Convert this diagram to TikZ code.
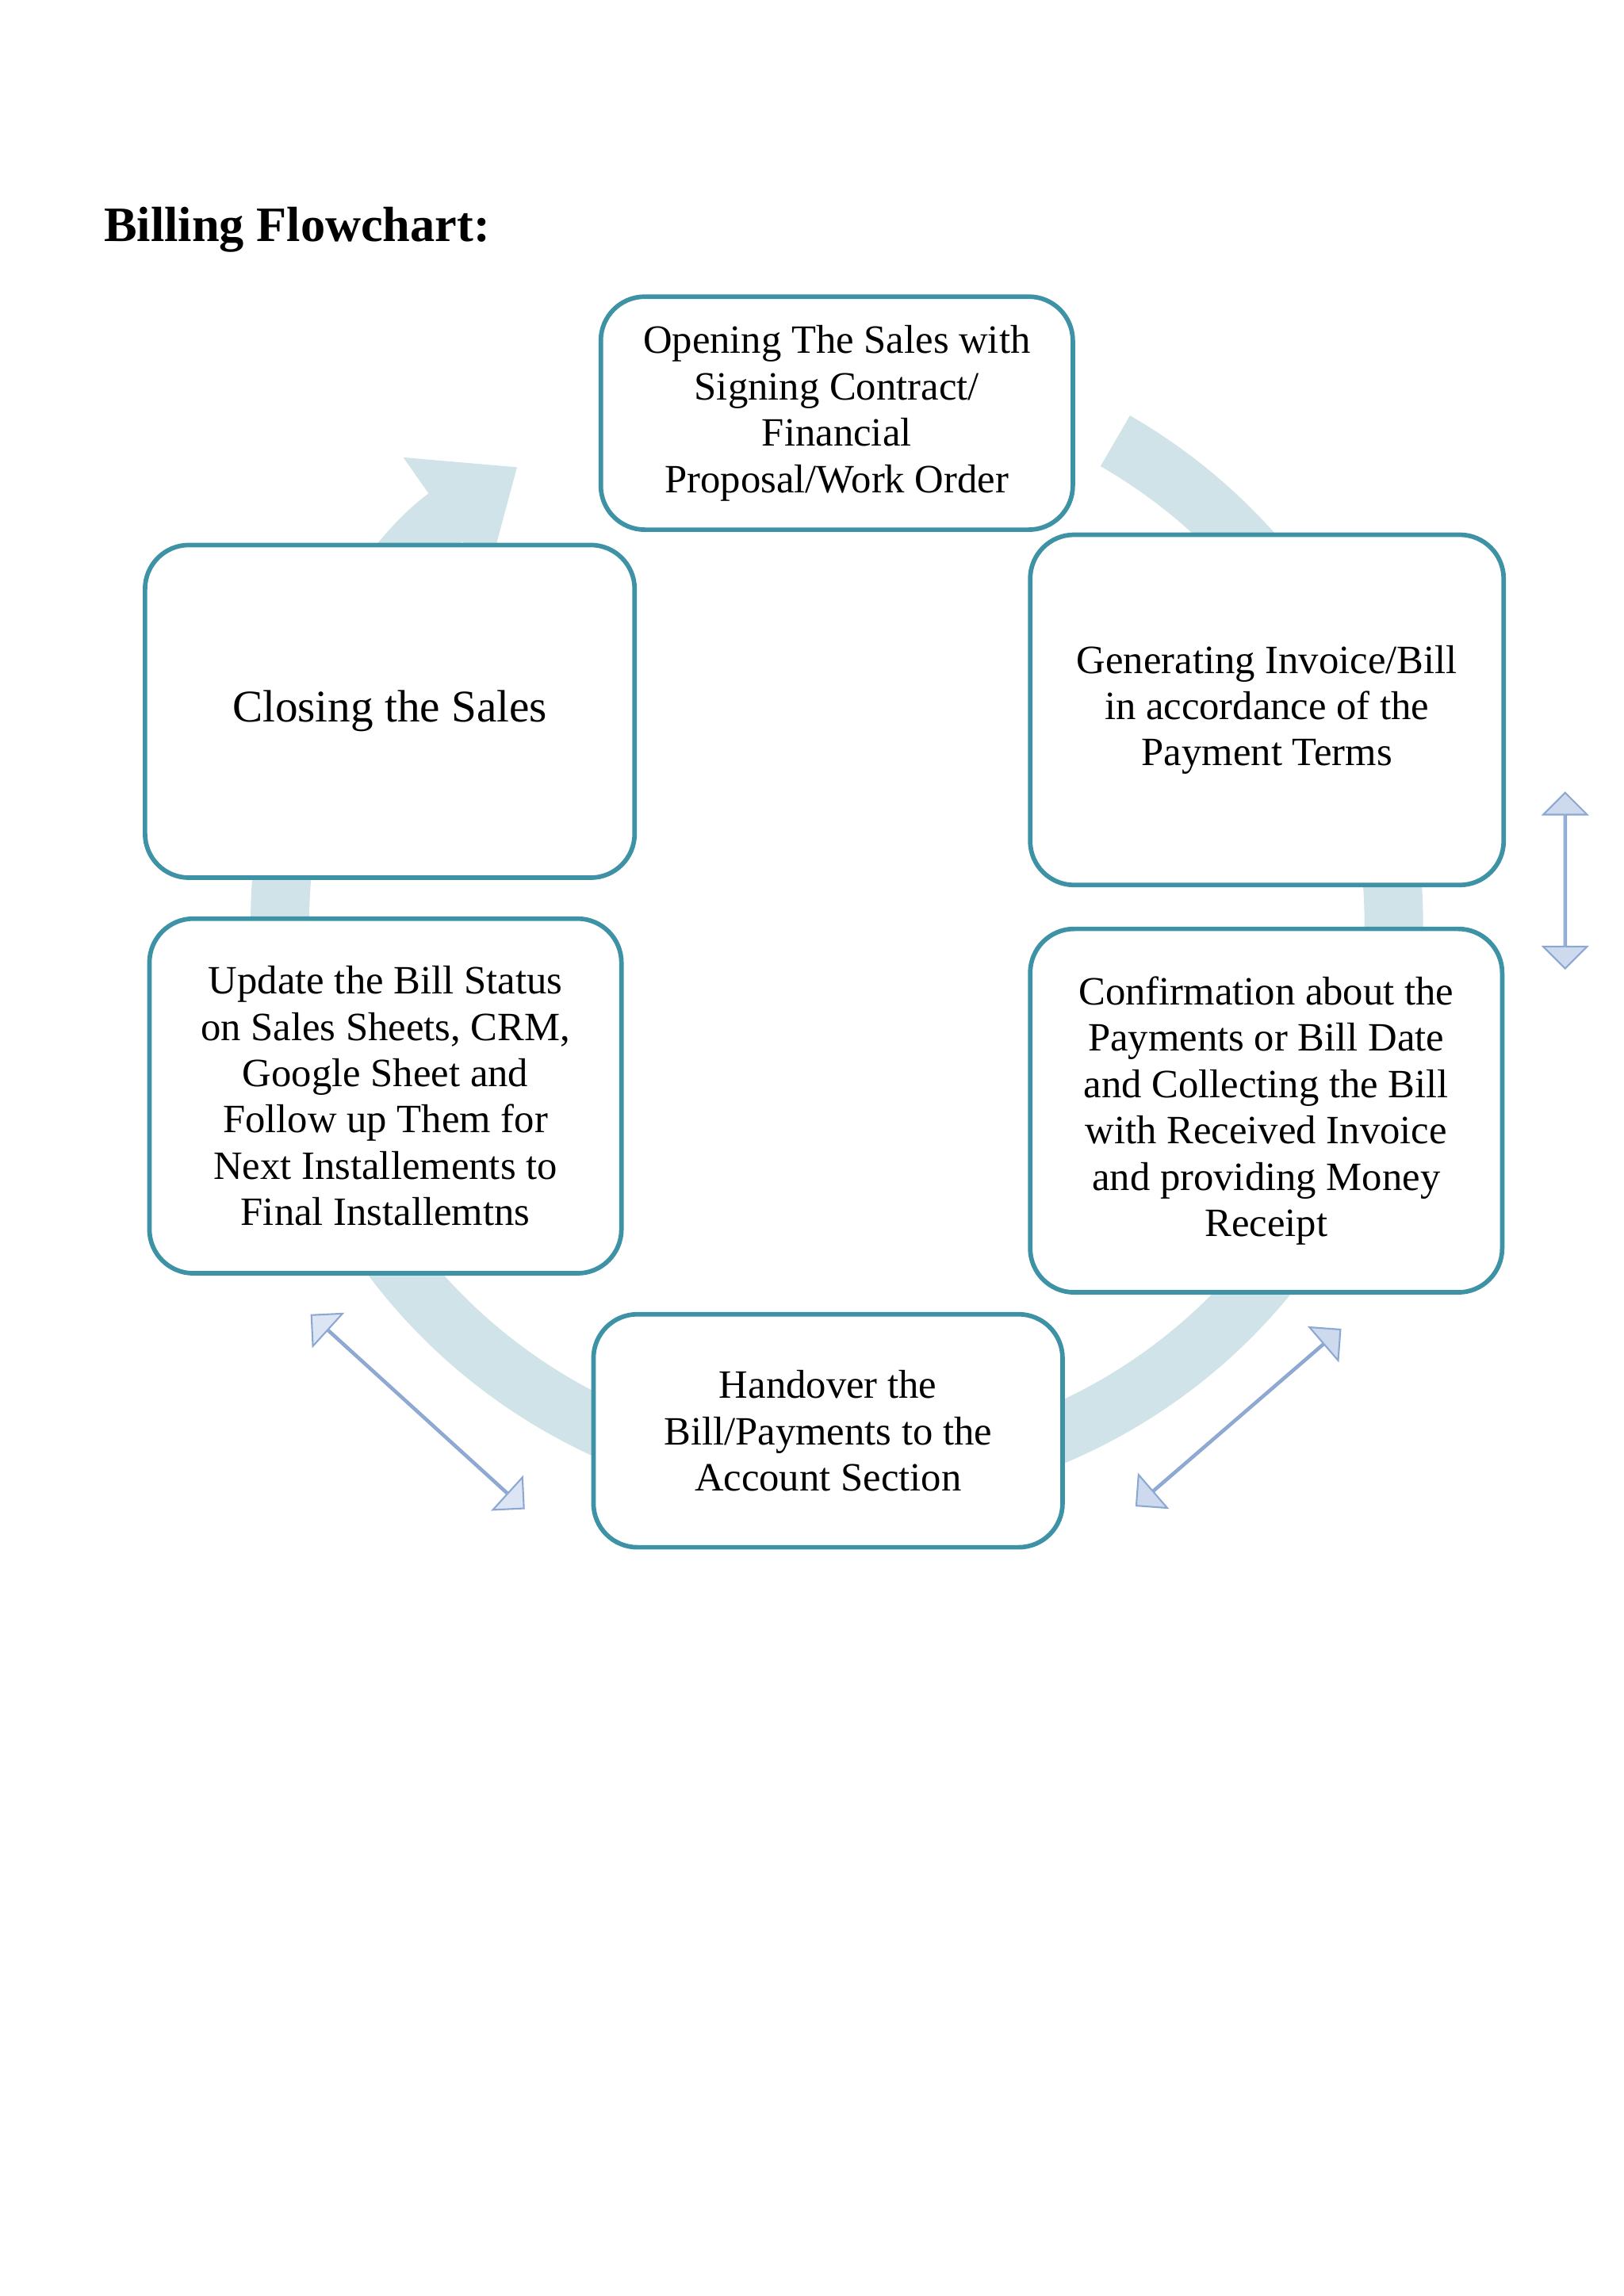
\documentclass[tikz,border=0pt]{standalone}
\usepackage{fontspec}
\setmainfont{Liberation Serif}
\usetikzlibrary{arrows.meta,shapes.arrows}
\definecolor{ring}{RGB}{208,227,233}
\definecolor{boxc}{RGB}{62,146,166}
\definecolor{arrf}{RGB}{205,218,238}
\definecolor{arrd}{RGB}{140,168,210}
\begin{document}
\begin{tikzpicture}[x=0.025cm,y=0.025cm,
  box/.style={draw=boxc,line width=2.2pt,rounded corners=0.75cm,fill=white,align=center,
    font=\fontsize{19.5}{22.5}\selectfont,inner sep=2pt},
  darr/.style={double arrow,draw=arrd,fill=arrf,line width=0.8pt,inner sep=0pt,
    minimum width=0.75cm,double arrow head extend=0.3cm}]
\useasboundingbox (0,0) rectangle (1108,1567);
\fill[white] (0,0) rectangle (1108,1567);
\node[anchor=west,font=\bfseries\fontsize{24}{28}\selectfont] (title) at (66,1410) {Billing Flowchart:};
% ring
\draw[ring,line width=1cm,-{Triangle[length=1.5cm,width=2.4cm]}] (571,937) ++(60:380) arc[start angle=60,end angle=-235,radius=380];
% boxes
\node[box,minimum width=8.05cm,minimum height=3.975cm] (top) at (571,1285) {Opening The Sales with\\Signing Contract/\\Financial\\Proposal/Work Order};
\node[box,minimum width=8.075cm,minimum height=5.975cm] (r1) at (864.5,1082.5) {Generating Invoice/Bill\\in accordance of the\\Payment Terms};
\node[box,minimum width=8.05cm,minimum height=6.2cm] (r2) at (864,809) {Confirmation about the\\Payments or Bill Date\\and Collecting the Bill\\with Received Invoice\\and providing Money\\Receipt};
\node[box,minimum width=8.0cm,minimum height=3.975cm] (bot) at (565,590.5) {Handover the\\Bill/Payments to the\\Account Section};
\node[box,minimum width=8.05cm,minimum height=6.05cm] (l2) at (263,819) {Update the Bill Status\\on Sales Sheets, CRM,\\Google Sheet and\\Follow up Them for\\Next Installements to\\Final Installemtns};
\node[box,minimum width=8.35cm,minimum height=5.675cm,font=\fontsize{22}{26}\selectfont] (l1) at (266,1081.5) {Closing the Sales};
% double arrows
\node[darr,minimum height=3cm,rotate=90] (a1) at (1068,966) {};
\node[darr,minimum height=4.6cm,rotate=40.8] (a2) at (845,599.5) {};
\node[darr,minimum height=4.9cm,rotate=-42.3,fill=arrf!70] (a3) at (285,603.5) {};
\end{tikzpicture}
\end{document}
